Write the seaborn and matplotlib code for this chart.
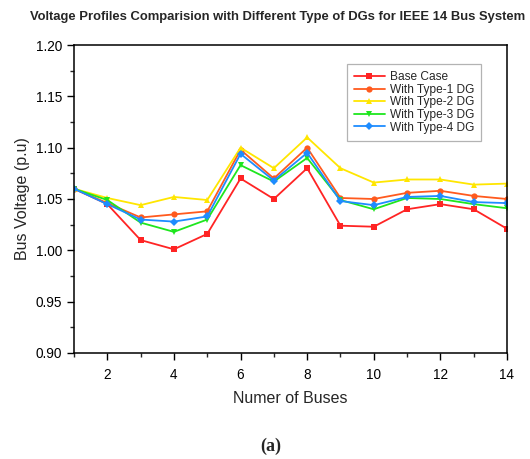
import numpy as np
import pandas as pd
import seaborn as sns
import matplotlib
matplotlib.use("Agg")
import matplotlib.pyplot as plt
from matplotlib.ticker import MultipleLocator

# Bus voltage magnitudes (p.u.) for the IEEE 14-bus system
buses = list(range(1, 15))
base_case = [1.060, 1.045, 1.010, 1.001, 1.016, 1.070, 1.050, 1.080, 1.024, 1.023, 1.040, 1.045, 1.040, 1.021]
type1_dg = [1.060, 1.046, 1.032, 1.035, 1.038, 1.098, 1.070, 1.100, 1.051, 1.050, 1.056, 1.058, 1.053, 1.050]
type2_dg = [1.060, 1.051, 1.044, 1.052, 1.049, 1.100, 1.080, 1.110, 1.080, 1.066, 1.069, 1.069, 1.064, 1.065]
type3_dg = [1.060, 1.049, 1.027, 1.018, 1.030, 1.083, 1.067, 1.090, 1.049, 1.040, 1.051, 1.050, 1.045, 1.041]
type4_dg = [1.060, 1.045, 1.030, 1.028, 1.033, 1.094, 1.068, 1.095, 1.048, 1.044, 1.052, 1.053, 1.047, 1.046]

series_names = ["Base Case", "With Type-1 DG", "With Type-2 DG", "With Type-3 DG", "With Type-4 DG"]
series_values = [base_case, type1_dg, type2_dg, type3_dg, type4_dg]

colors = ["#ff2424", "#ff5a1e", "#ffe600", "#1ee61e", "#1e8cff"]
markers = ["s", "o", "^", "v", "D"]

frames = []
for name, vals in zip(series_names, series_values):
    frames.append(pd.DataFrame({"Bus": buses, "Voltage": vals, "Case": name}))
df = pd.concat(frames, ignore_index=True)

sns.set_style("ticks")
plt.rcParams["font.family"] = ["Liberation Sans", "DejaVu Sans"]

fig = plt.figure(figsize=(5.30, 4.59), dpi=100)
ax = fig.add_axes([74 / 530, 1 - 353 / 459, 433 / 530, 308 / 459])

sns.lineplot(
    data=df, x="Bus", y="Voltage", hue="Case", style="Case",
    hue_order=series_names, style_order=series_names,
    palette=dict(zip(series_names, colors)),
    markers=dict(zip(series_names, markers)),
    dashes=False, linewidth=1.3, markersize=4.5, markeredgewidth=0,
    ax=ax,
)

ax.set_xlim(1, 14)
ax.set_ylim(0.90, 1.20)
ax.xaxis.set_major_locator(MultipleLocator(2))
ax.xaxis.set_minor_locator(MultipleLocator(1))
ax.yaxis.set_major_locator(MultipleLocator(0.05))
ax.yaxis.set_minor_locator(MultipleLocator(0.025))
ax.yaxis.set_major_formatter(matplotlib.ticker.FormatStrFormatter("%.2f"))

for s in ax.spines.values():
    s.set_visible(True)
    s.set_linewidth(1.1)
    s.set_color("black")

ax.tick_params(which="major", direction="out", length=5, width=1.0, labelsize=9.8, colors="black")
ax.tick_params(which="minor", direction="out", length=3, width=1.0)
ax.tick_params(axis="x", pad=6)

ax.set_xlabel("Numer of Buses", fontsize=11.5, labelpad=6)
ax.set_ylabel("Bus Voltage (p.u)", fontsize=11.5, labelpad=4)

leg = ax.legend(
    loc="upper left", bbox_to_anchor=(0.630, 0.938), borderaxespad=0,
    fontsize=8.6, frameon=True, fancybox=False, handlelength=2.6,
    labelspacing=0.05, borderpad=0.6, handletextpad=0.4,
)
leg.get_frame().set_edgecolor("#a0a0a0")
leg.get_frame().set_linewidth(0.9)

fig.text(30 / 530, 1 - 17 / 459, "Voltage Profiles Comparision with Different Type of DGs for IEEE 14 Bus System",
         ha="left", va="center", fontsize=9.4, fontweight="bold")
fig.text(271 / 530, 1 - 446 / 459, "(a)", ha="center", va="center", fontsize=13,
         fontweight="bold", family=["Liberation Serif", "DejaVu Serif"])

fig.savefig("out.png", dpi=100)
